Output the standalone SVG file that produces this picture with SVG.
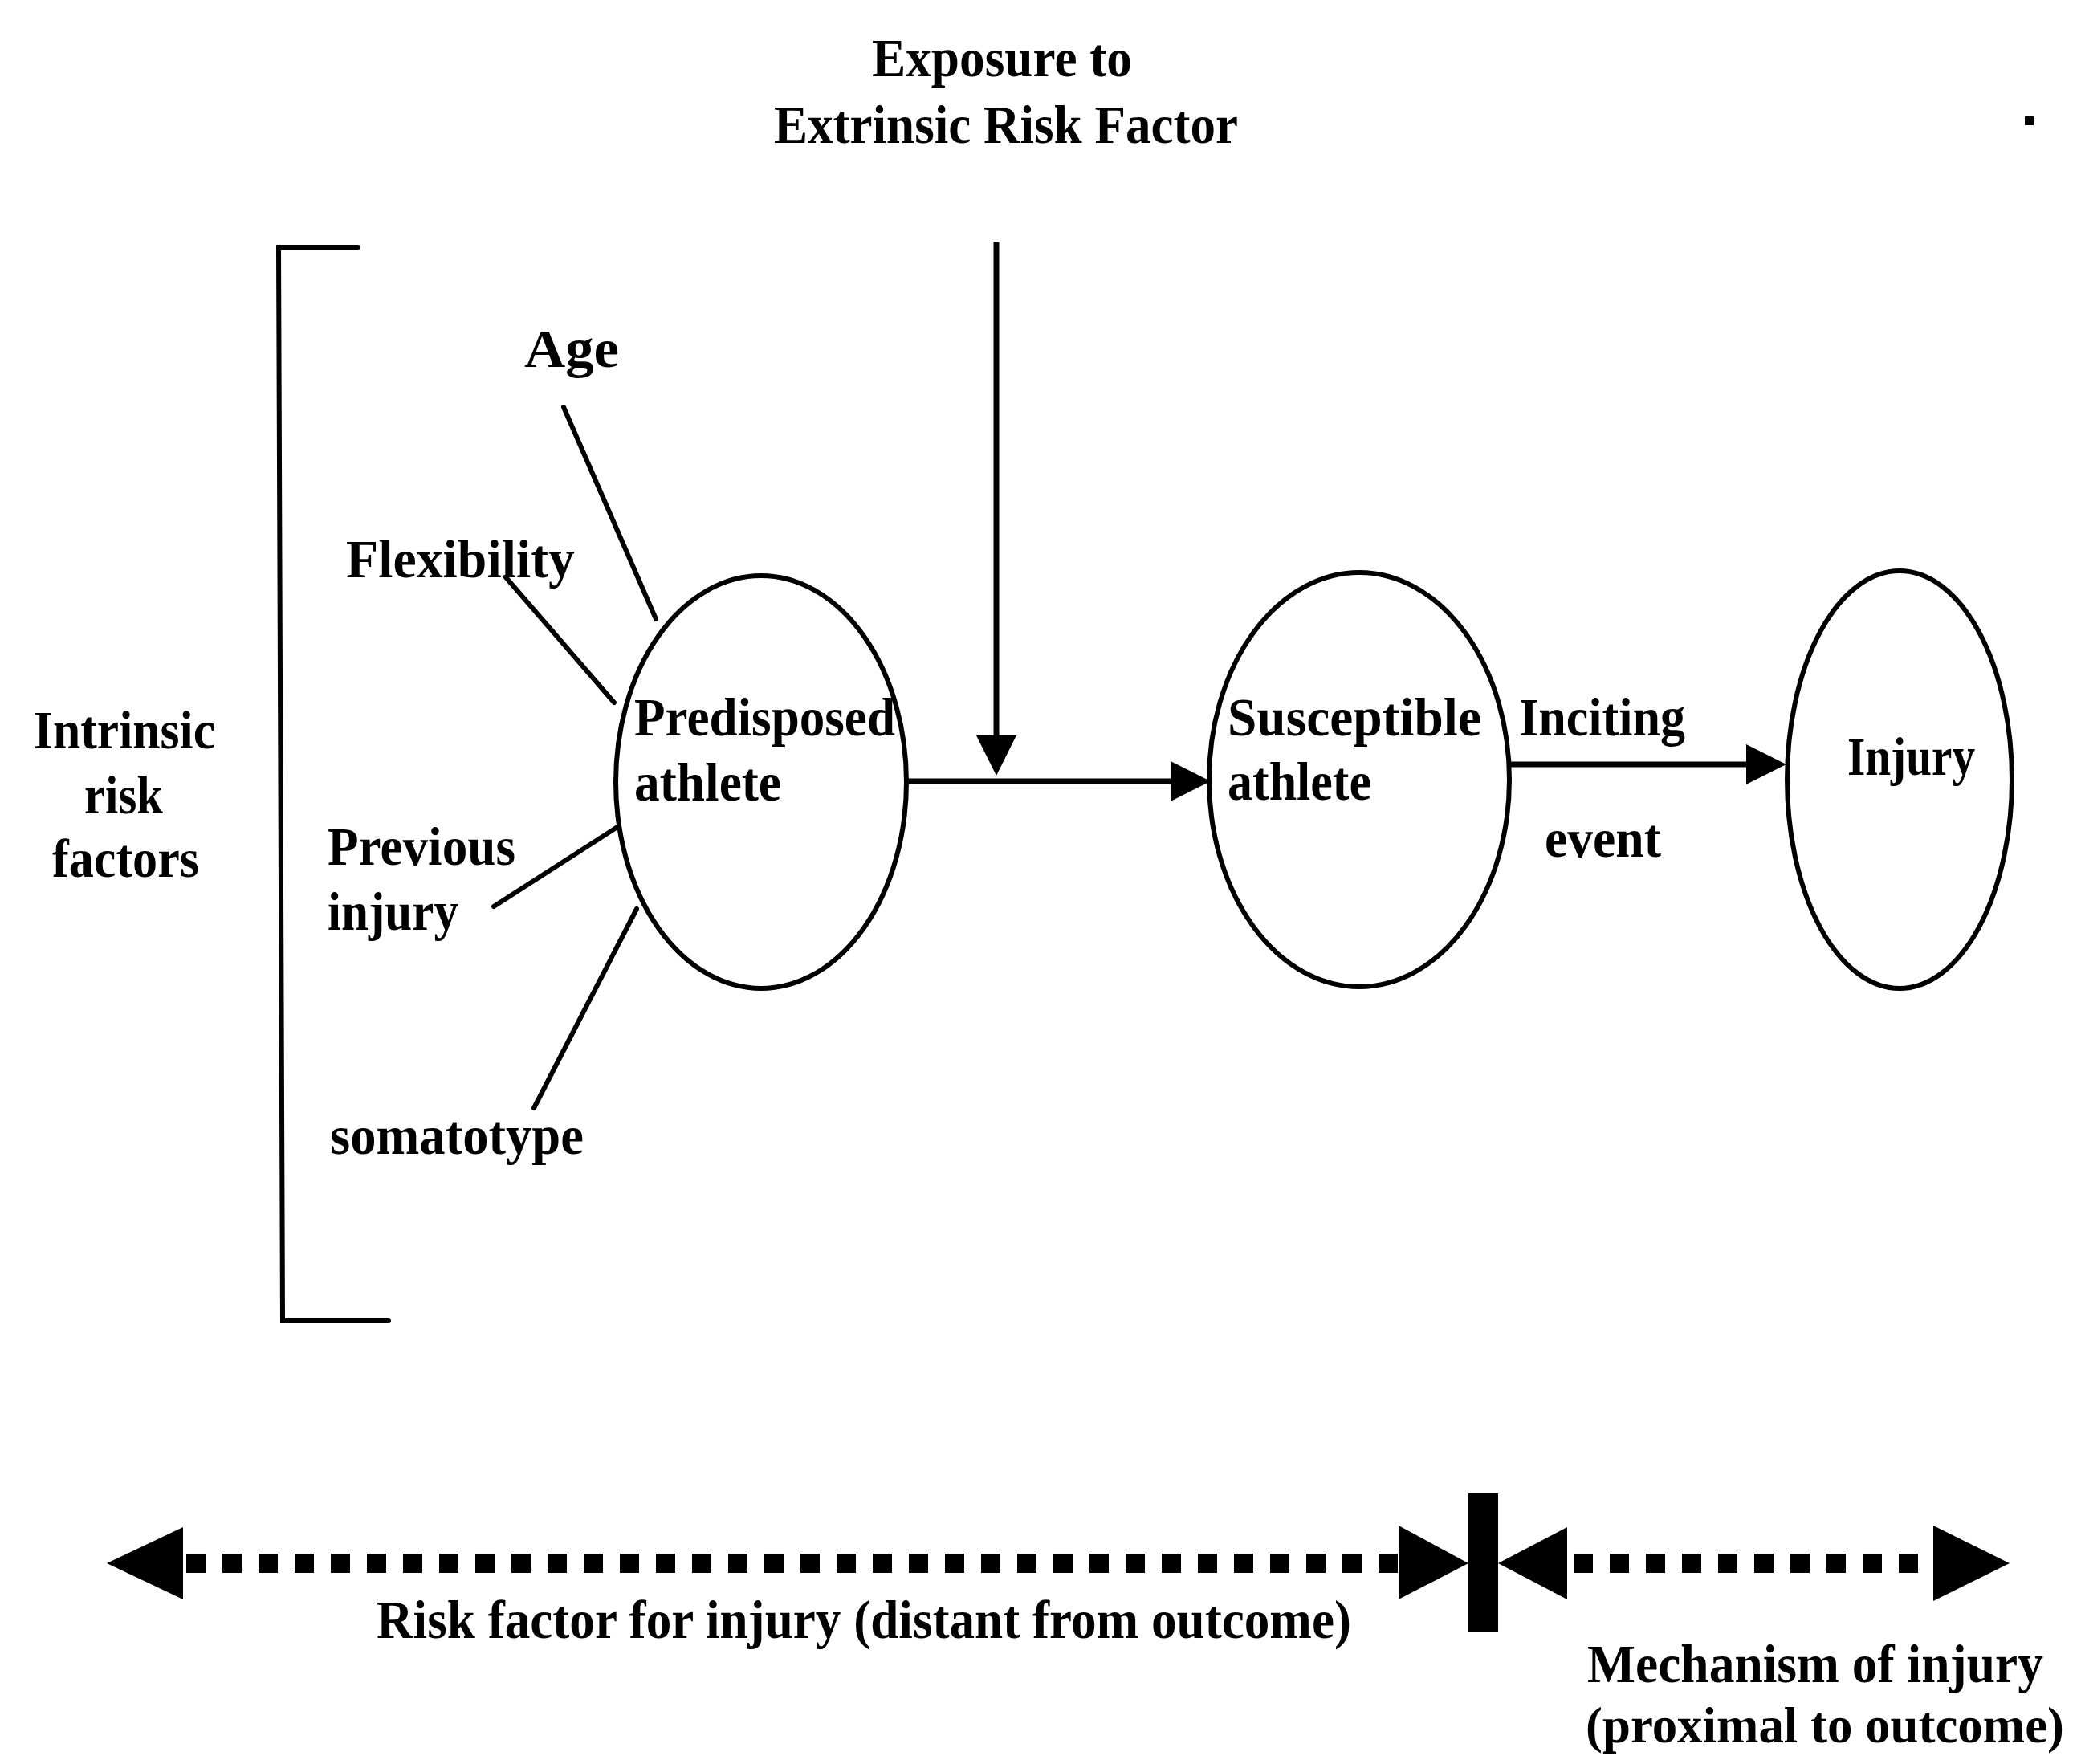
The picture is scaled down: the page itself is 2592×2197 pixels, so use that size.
<svg xmlns="http://www.w3.org/2000/svg" width="2592" height="2197" viewBox="0 0 2592 2197">
<defs>
<style>
.t{font-family:"Liberation Serif","Times New Roman",serif;font-weight:bold;font-size:68px;fill:#000}
.t2{font-family:"Liberation Serif","Times New Roman",serif;font-weight:bold;font-size:63px;fill:#000}
.ln{stroke:#000;stroke-width:6;fill:none;stroke-linecap:round}
.el{stroke:#000;stroke-width:6;fill:none}
.ar{stroke:#000;stroke-width:7;fill:none}
.dot{stroke:#000;stroke-width:24;fill:none;stroke-dasharray:24 21}
</style>
<marker id="ah" markerUnits="userSpaceOnUse" markerWidth="50" markerHeight="50" viewBox="0 0 48 48" refX="2" refY="24" orient="auto">
<path d="M0,0 L48,24 L0,48 Z" fill="#000"/>
</marker>
</defs>
<rect width="2592" height="2197" fill="#fff"/>

<g id="title">
<text class="t" x="1086" y="95" textLength="324" lengthAdjust="spacingAndGlyphs">Exposure to</text>
<text class="t" x="964" y="178" textLength="578" lengthAdjust="spacingAndGlyphs">Extrinsic Risk Factor</text>
<rect x="2522" y="145" width="11" height="11" fill="#000"/>
</g>

<g id="bracket">
<path class="ln" d="M446,308 L347,308 L352,1645 L484,1645" stroke-linecap="butt"/>
</g>

<g id="intrinsic-label">
<text class="t" x="42" y="932" textLength="226" lengthAdjust="spacingAndGlyphs">Intrinsic</text>
<text class="t" x="105" y="1013" textLength="98" lengthAdjust="spacingAndGlyphs">risk</text>
<text class="t" x="65" y="1092" textLength="183" lengthAdjust="spacingAndGlyphs">factors</text>
</g>

<g id="factor-age">
<text class="t" x="653" y="457" textLength="118" lengthAdjust="spacingAndGlyphs">Age</text>
</g>
<g id="factor-flexibility">
<text class="t" x="431" y="719" textLength="285" lengthAdjust="spacingAndGlyphs">Flexibility</text>
</g>
<g id="factor-previous-injury">
<text class="t" x="408" y="1077" textLength="234" lengthAdjust="spacingAndGlyphs">Previous</text>
<text class="t" x="408" y="1158" textLength="163" lengthAdjust="spacingAndGlyphs">injury</text>
</g>
<g id="factor-somatotype">
<text class="t" x="411" y="1437" textLength="316" lengthAdjust="spacingAndGlyphs">somatotype</text>
</g>

<g id="node-predisposed">
<ellipse class="el" cx="948" cy="974" rx="181" ry="257"/>
<text class="t" x="790" y="916" textLength="325" lengthAdjust="spacingAndGlyphs">Predisposed</text>
<text class="t" x="790" y="997" textLength="183" lengthAdjust="spacingAndGlyphs">athlete</text>
</g>

<g id="node-susceptible">
<ellipse class="el" cx="1693" cy="971" rx="187" ry="258"/>
<text class="t" x="1529" y="916" textLength="316" lengthAdjust="spacingAndGlyphs">Susceptible</text>
<text class="t" x="1529" y="996" textLength="179" lengthAdjust="spacingAndGlyphs">athlete</text>
</g>

<g id="node-injury">
<ellipse class="el" cx="2366" cy="971" rx="140" ry="260"/>
<text class="t" x="2301" y="965" textLength="159" lengthAdjust="spacingAndGlyphs">Injury</text>
</g>

<g id="connectors">
<line class="ln" x1="702" y1="507" x2="817" y2="771"/>
<line class="ln" x1="630" y1="719" x2="765" y2="875"/>
<line class="ln" x1="615" y1="1129" x2="769" y2="1030"/>
<line class="ln" x1="665" y1="1380" x2="793" y2="1132"/>
<line class="ar" x1="1241" y1="302" x2="1241" y2="918" marker-end="url(#ah)"/>
<line class="ar" x1="1129" y1="973" x2="1460" y2="973" marker-end="url(#ah)"/>
<line class="ar" x1="1880" y1="952" x2="2177" y2="952" marker-end="url(#ah)"/>
<text class="t" x="1892" y="916" textLength="207" lengthAdjust="spacingAndGlyphs">Inciting</text>
<text class="t" x="1924" y="1067" textLength="145" lengthAdjust="spacingAndGlyphs">event</text>
</g>

<g id="timeline">
<line class="dot" x1="232" y1="1947" x2="1742" y2="1947"/>
<line class="dot" x1="1960" y1="1947" x2="2408" y2="1947"/>
<polygon points="133,1947 228,1902 228,1992" fill="#000"/>
<polygon points="1742,1900 1829,1947 1742,1992" fill="#000"/>
<rect x="1829" y="1860" width="37" height="172" fill="#000"/>
<polygon points="1952,1902 1866,1947 1952,1992" fill="#000"/>
<polygon points="2408,1900 2503,1947 2408,1994" fill="#000"/>
<text class="t" x="469" y="2040" textLength="1214" lengthAdjust="spacingAndGlyphs">Risk factor for injury (distant from outcome)</text>
<text class="t" x="1977" y="2095" textLength="568" lengthAdjust="spacingAndGlyphs">Mechanism of injury</text>
<text class="t2" x="1975" y="2170" textLength="596" lengthAdjust="spacingAndGlyphs">(proximal to outcome)</text>
</g>
</svg>
